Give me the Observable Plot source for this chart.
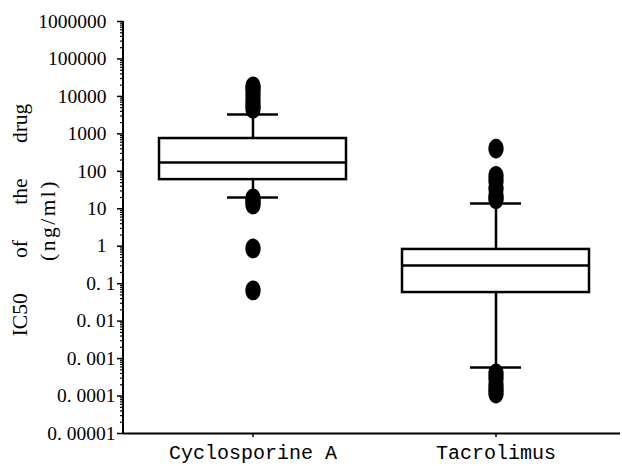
<!DOCTYPE html>
<html>
<head>
<meta charset="utf-8">
<script src="https://cdn.jsdelivr.net/npm/d3@7"></script>
<script src="https://cdn.jsdelivr.net/npm/@observablehq/plot@0.6"></script>
<style>
  html, body { margin: 0; padding: 0; background: #fff; }
  #chart svg { display: block; }
</style>
</head>
<body>
<div id="chart"></div>
<script>
// ---- data ----
const categories = ["Cyclosporine A", "Tacrolimus"];
const q1 = [60, 0.058];
const median = [172, 0.305];
const q3 = [751, 0.82];
const whiskerLow = [20, 0.00058];
const whiskerHigh = [3300, 13.8];
const cycloOutliers = [18500, 15000, 11000, 8000, 6000, 4700, 19, 16, 13, 0.87, 0.066];
const tacroOutliers = [406, 75, 55, 35, 22, 18, 0.0004, 0.0003, 0.0002, 0.00015, 0.000117];
const yTickValues = [1e6, 1e5, 1e4, 1e3, 1e2, 10, 1, 0.1, 0.01, 0.001, 0.0001, 0.00001];
const yTickLabels = ["1000000", "100000", "10000", "1000", "100", "10", "1", "0. 1", "0. 01", "0. 001", "0. 0001", "0. 00001"];
const yTitle = "IC50 of the drug";
const yUnit = "(ng/ml)";

// ---- tables built from the arrays ----
const boxes = categories.map((name, i) => ({
  name, q1: q1[i], median: median[i], q3: q3[i], lo: whiskerLow[i], hi: whiskerHigh[i]
}));
const outliers = [
  ...cycloOutliers.map(v => ({name: categories[0], value: v})),
  ...tacroOutliers.map(v => ({name: categories[1], value: v}))
];
const minorTicks = [];
for (const d of yTickValues) if (d < 1e6) for (let k = 2; k <= 9; ++k) minorTicks.push(d * k);
const wholeTicks = yTickValues.filter(d => d >= 1);
const fracTicks = yTickValues.filter(d => d < 1);
const fmt = d => yTickLabels[yTickValues.indexOf(d)];

// ellipse symbol (slightly taller than wide)
const ellipse = {
  draw(ctx, size) {
    const r = Math.sqrt(size / Math.PI);
    const rx = r * 0.85, ry = r * 1.1, k = 0.5523;
    ctx.moveTo(rx, 0);
    ctx.bezierCurveTo(rx, ry * k, rx * k, ry, 0, ry);
    ctx.bezierCurveTo(-rx * k, ry, -rx, ry * k, -rx, 0);
    ctx.bezierCurveTo(-rx, -ry * k, -rx * k, -ry, 0, -ry);
    ctx.bezierCurveTo(rx * k, -ry, rx, -ry * k, rx, 0);
    ctx.closePath();
  }
};

const SW = 2.5;
const capInset = 68;
const tickFont = {fontFamily: "Liberation Serif", fontSize: 19.5};

const chart = Plot.plot({
  width: 622,
  height: 466,
  marginLeft: 123,
  marginRight: 2,
  marginTop: 21,
  marginBottom: 33,
  style: {background: "#fff", color: "#000"},
  x: {type: "band", domain: categories, range: [126, 623], paddingInner: 0.23, paddingOuter: 0.1375, label: null},
  y: {type: "log", domain: [1e-5, 1e6], label: null},
  marks: [
    // whiskers
    Plot.ruleX(boxes, {x: "name", y1: "q3", y2: "hi", stroke: "#000", strokeWidth: SW}),
    Plot.ruleX(boxes, {x: "name", y1: "lo", y2: "q1", stroke: "#000", strokeWidth: SW}),
    // caps
    Plot.tickY(boxes, {x: "name", y: "hi", stroke: "#000", strokeWidth: SW, insetLeft: capInset, insetRight: capInset}),
    Plot.tickY(boxes, {x: "name", y: "lo", stroke: "#000", strokeWidth: SW, insetLeft: capInset, insetRight: capInset}),
    // box
    Plot.barY(boxes, {x: "name", y1: "q1", y2: "q3", fill: "#fff", stroke: "#000", strokeWidth: SW}),
    Plot.tickY(boxes, {x: "name", y: "median", stroke: "#000", strokeWidth: SW}),
    // outliers
    Plot.dot(outliers, {x: "name", y: "value", r: 9, symbol: ellipse, fill: "#000", stroke: "none"}),
    // axes
    Plot.axisY(minorTicks, {tickSize: 3, tickFormat: () => "", strokeWidth: 1.2, label: null}),
    Plot.axisY(wholeTicks, {tickSize: 6, tickPadding: 11, strokeWidth: 1.5, label: null, tickFormat: fmt, ...tickFont}),
    Plot.axisY(fracTicks, {tickSize: 6, tickPadding: 2, strokeWidth: 1.5, label: null, tickFormat: fmt, ...tickFont}),
    Plot.axisX({tickSize: 4, tickPadding: 7, strokeWidth: 1.5, label: null, fontFamily: "Liberation Mono", fontSize: 20}),
    Plot.ruleY([1e-5], {stroke: "#000", strokeWidth: 2}),
    // left axis line + axis title
    (index, scales, values, dim) => {
      const g = d3.create("svg:g");
      g.append("line")
        .attr("x1", dim.marginLeft).attr("x2", dim.marginLeft)
        .attr("y1", dim.marginTop).attr("y2", dim.height - dim.marginBottom)
        .attr("stroke", "#000").attr("stroke-width", 2);
      const cy = (dim.marginTop + dim.height - dim.marginBottom) / 2 - 7;
      g.append("text")
        .attr("transform", `translate(20,${cy}) rotate(-90)`)
        .attr("text-anchor", "middle").attr("dominant-baseline", "central")
        .attr("font-family", "Liberation Serif").attr("font-size", 21.5)
        .attr("word-spacing", 30).attr("fill", "#000")
        .text(yTitle);
      g.append("text")
        .attr("transform", `translate(48,${cy}) rotate(-90)`)
        .attr("text-anchor", "middle").attr("dominant-baseline", "central")
        .attr("font-family", "Liberation Serif").attr("font-size", 21.5)
        .attr("letter-spacing", 2.5).attr("fill", "#000")
        .text(yUnit);
      return g.node();
    }
  ]
});
document.getElementById("chart").appendChild(chart);
</script>
</body>
</html>
